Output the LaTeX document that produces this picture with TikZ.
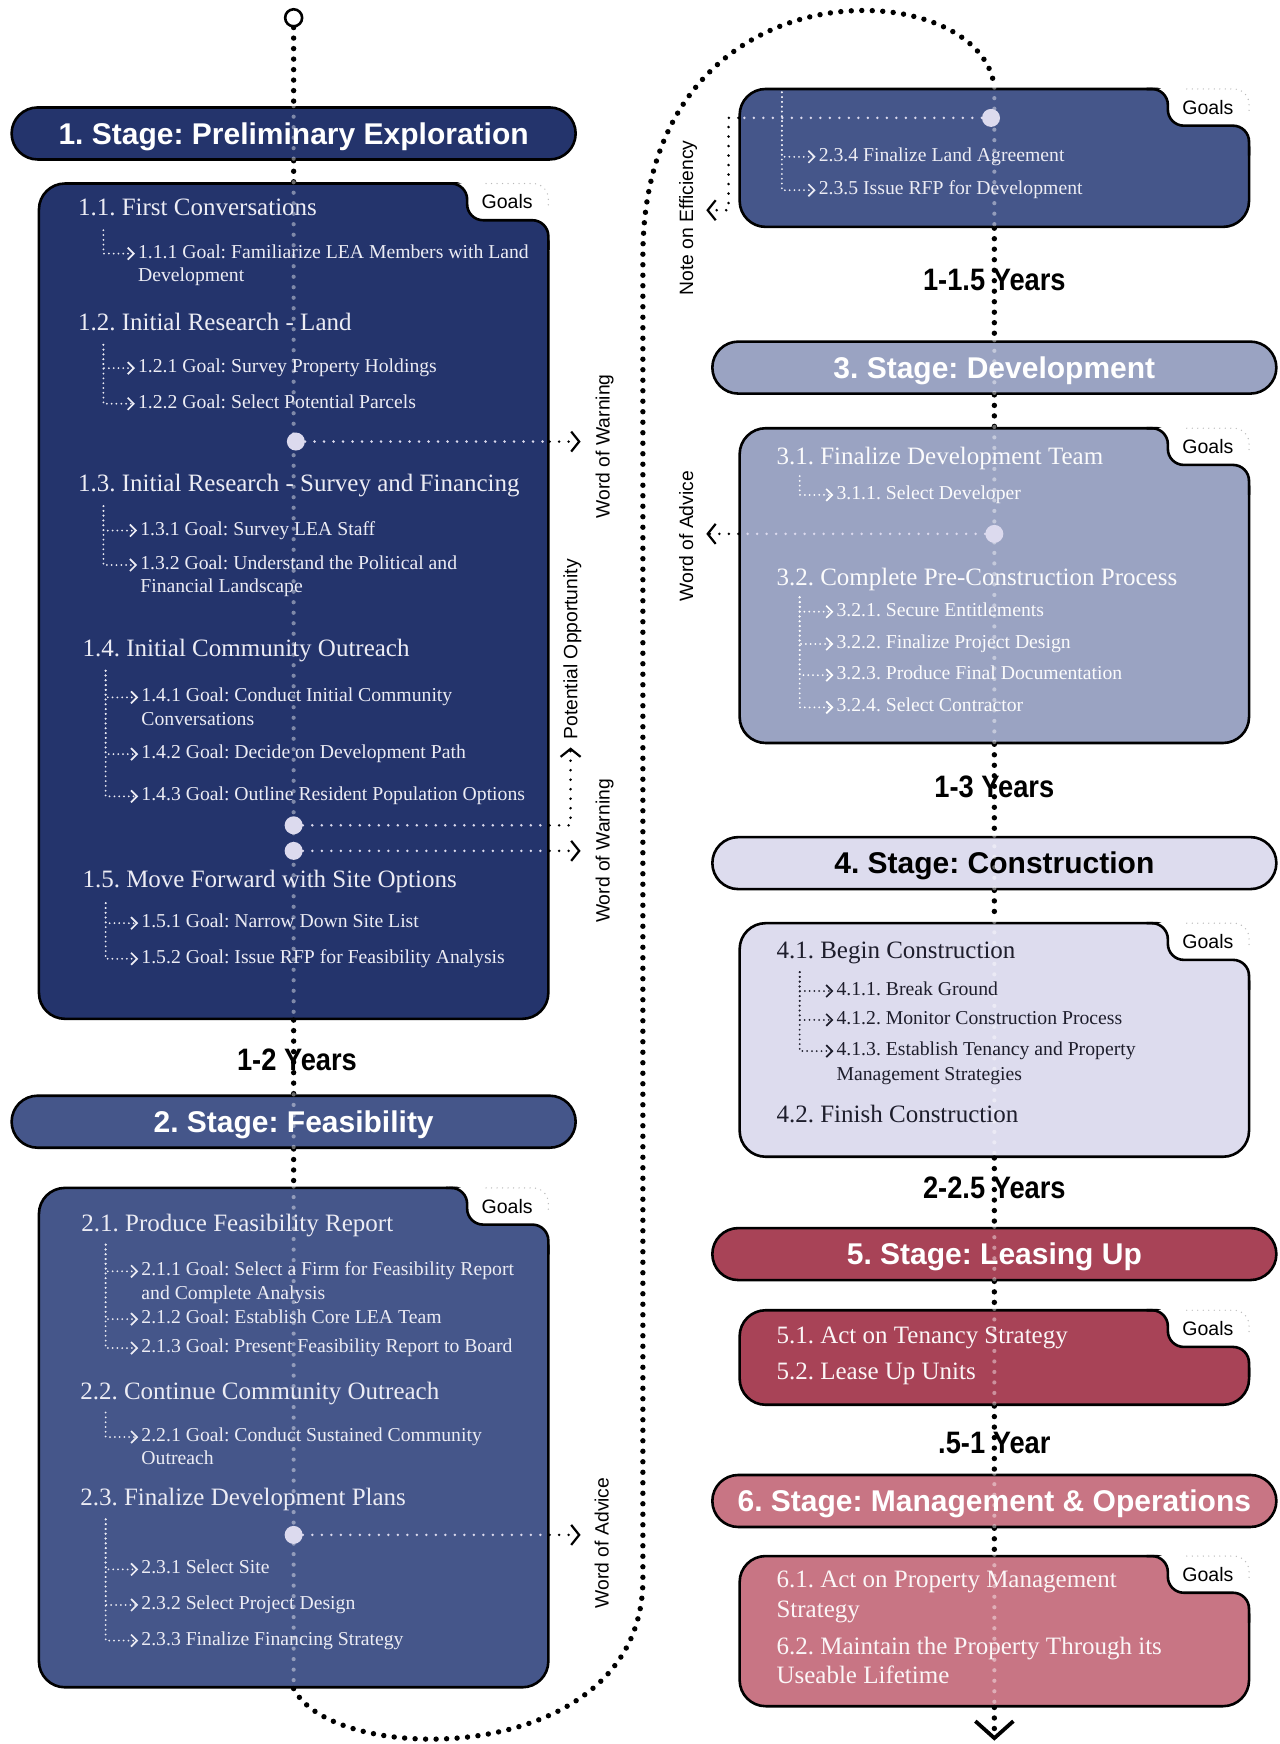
\documentclass[tikz,border=0pt]{standalone}
\usepackage{fontspec}
\setmainfont{Liberation Serif}
\setsansfont{Liberation Sans}
\usetikzlibrary{arrows.meta,fit}
\definecolor{cA}{HTML}{24346C}
\definecolor{cB}{HTML}{45568A}
\definecolor{cC}{HTML}{9AA3C2}
\definecolor{cD}{HTML}{DDDCEE}
\definecolor{cE}{HTML}{A84357}
\definecolor{cF}{HTML}{C87584}
\definecolor{dotc}{HTML}{DCDAEE}
\definecolor{txtL}{HTML}{ECECF4}
\definecolor{txtD}{HTML}{1E1E2C}
\frenchspacing
\newcommand\goalstab[3]{%
  \fill[white,rounded corners=16pt] (#1-90,#2) -- (#1-73,#2) -- (#1-73,#2+33) -- (#1,#2+33) -- (#1,#2+60) -- (#1+15,#2+60) -- (#1+15,#2-15) -- (#1-90,#2-15) -- cycle;
  \draw[line width=2.6pt,rounded corners=16pt] (#1-92,#2) -- (#1-73,#2) -- (#1-73,#2+33) -- (#1,#2+33) -- (#1,#2+60);
  \draw[tabdots] (#1-56,#2) -- (#1-14,#2) .. controls (#1-6,#2) and (#1,#2+6) .. (#1,#2+14) -- (#1,#2+22);
  \node[goalsf] (#3) at (#1-37,#2+16.5) {Goals};
}
\begin{document}
\begin{tikzpicture}[x=1.1122pt, y=-1.1122pt,
  pill/.style={draw=black, line width=2.6pt, rounded corners=26pt, minimum width=564pt, minimum height=52pt, inner sep=0pt, font=\sffamily\bfseries\fontsize{30}{34}\selectfont, text height=21.5pt, text depth=0pt},
  stbox/.style={draw=black, line width=2.6pt, rounded corners=26pt, inner sep=0pt},
  mainline/.style={black, line width=5.4pt, line cap=round, dash pattern=on 0pt off 10.5pt},
  mainin/.style={white, opacity=0.42, line width=4.2pt, line cap=round, dash pattern=on 0pt off 10.5pt},
  sideout/.style={black, line width=2.8pt, line cap=round, dash pattern=on 0pt off 9.5pt},
  sidein/.style={dotc, line width=2.8pt, line cap=round, dash pattern=on 0pt off 9.5pt},
  tipS/.style={-{Straight Barb[length=8pt,width=20pt,line width=2.2pt]}},
  subl/.style={line width=2pt, line cap=round, dash pattern=on 0pt off 4.8pt, -{Straight Barb[length=6pt,width=12pt,line width=1.7pt]}, shorten >=3pt},
  headt/.style={anchor=west, inner sep=0pt, font=\fontsize{25}{28}\selectfont, text height=11.5pt, text depth=0pt},
  itemt/.style={anchor=west, inner sep=0pt, font=\fontsize{19.7}{22}\selectfont, text height=9pt, text depth=0pt},
  years/.style={font=\sffamily\bfseries\fontsize{31}{34}\selectfont, inner sep=0pt, text height=22pt, text depth=0pt},
  sidelab/.style={rotate=90, anchor=west, font=\sffamily\fontsize{19.3}{22}\selectfont, inner sep=0pt, text height=13.8pt, text depth=0pt},
  gdot/.style={circle, fill=dotc, minimum size=18pt, inner sep=0pt},
  goalsf/.style={font=\sffamily\fontsize{19.5}{22}\selectfont, inner sep=0pt, text height=13.6pt, text depth=0pt},
  tabdots/.style={gray!55, line width=1.4pt, dash pattern=on 0pt off 5.5pt, line cap=round}
]
\useasboundingbox (0,0) rectangle (1150,1568);

% ---------- stage pills ----------
\node[pill, fill=cA, text=white] (p1) at (264,120) {1. Stage: Preliminary Exploration};
\node[pill, fill=cB, text=white] (p2) at (264,1008.5) {2. Stage: Feasibility};
\node[pill, fill=cC, text=white] (p3) at (894,330.5) {3. Stage: Development};
\node[pill, fill=cD, text=black] (p4) at (894,776) {4. Stage: Construction};
\node[pill, fill=cE, text=white] (p5) at (894,1127.5) {5. Stage: Leasing Up};
\node[pill, fill=cF, text=white] (p6) at (894,1349.5) {6. Stage: Management \& Operations};

% ---------- boxes ----------
\node[stbox, fill=cA, fit={(35,165) (493,916)}] (b1) {};
\node[stbox, fill=cB, fit={(35,1068) (493,1517)}] (b2) {};
\node[stbox, fill=cB, fit={(665,80) (1123,204)}] (b2b) {};
\node[stbox, fill=cC, fit={(665,385) (1123,668)}] (b3) {};
\node[stbox, fill=cD, fit={(665,830) (1123,1040)}] (b4) {};
\node[stbox, fill=cE, fit={(665,1178) (1123,1263)}] (b5) {};
\node[stbox, fill=cF, fit={(665,1399) (1123,1534)}] (b6) {};

\goalstab{493}{165}{g1}
\goalstab{493}{1068}{g2}
\goalstab{1123}{80}{g2b}
\goalstab{1123}{385}{g3}
\goalstab{1123}{830}{g4}
\goalstab{1123}{1178}{g5}
\goalstab{1123}{1399}{g6}

% ---------- main timeline ----------
\node[circle, draw=black, line width=2.6pt, fill=white, minimum size=17pt, inner sep=0pt] (st) at (264,16) {};
\coordinate (endpt) at (894,1565);
\draw[mainline] (st) -- (p1);
\draw[mainline] (p1) -- (b1);
\draw[mainline] (b1) -- (p2);
\draw[mainline] (p2) -- (b2);
\draw[mainline] (b2.south) .. controls (300,1590) and (578,1590) .. (578,1420) -- (578,230) .. controls (578,-40) and (884,-25) .. (b2b.north);
\draw[mainline] (b2b) -- (p3);
\draw[mainline] (p3) -- (b3);
\draw[mainline] (b3) -- (p4);
\draw[mainline] (p4) -- (b4);
\draw[mainline] (b4) -- (p5);
\draw[mainline] (p5) -- (b5);
\draw[mainline] (b5) -- (p6);
\draw[mainline] (p6) -- (b6);
\draw[mainline, -{Straight Barb[length=17pt,width=38pt,line width=3.8pt]}] (b6) -- (endpt);
\foreach \n in {p1,b1,p2,b2,b2b,p3,b3,p4,b4,p5,b5,p6,b6}
  \draw[mainin] (\n.north) -- (\n.south);

% ---------- years ----------
\node[years] (y1) at (267,953) {\scalebox{0.88}[1]{1-2 Years}};
\node[years] (y2) at (894,251) {\scalebox{0.88}[1]{1-1.5 Years}};
\node[years] (y3) at (894,707) {\scalebox{0.88}[1]{1-3 Years}};
\node[years] (y4) at (894,1068) {\scalebox{0.88}[1]{2-2.5 Years}};
\node[years] (y5) at (894,1297) {\scalebox{0.88}[1]{.5-1 Year}};

% ---------- notes (side paths) ----------
\node[gdot] (d1) at (266,397) {};
\node[gdot] (d2) at (264,742) {};
\node[gdot] (d3) at (264,765) {};
\node[gdot] (d4) at (264,1380) {};
\node[gdot] (d5) at (891,106) {};
\node[gdot] (d6) at (894,480) {};
\coordinate (a1) at (522,397);
\coordinate (a2) at (513,672);
\coordinate (a3) at (522,765);
\coordinate (a4) at (522,1380);
\coordinate (a5) at (635,189);
\coordinate (a6) at (635,480);

\draw[sidein] (d1) -- (b1.east |- d1);
\draw[sideout, tipS] (b1.east |- d1) -- (a1);
\draw[sidein] (d2) -- (b1.east |- d2);
\draw[sideout, tipS] (b1.east |- d2) -| (a2);
\draw[sidein] (d3) -- (b1.east |- d3);
\draw[sideout, tipS] (b1.east |- d3) -- (a3);
\draw[sidein] (d4) -- (b2.east |- d4);
\draw[sideout, tipS] (b2.east |- d4) -- (a4);
\draw[sidein] (d5) -- (b2b.west |- d5);
\draw[sideout, tipS] (b2b.west |- d5) -- (655,106) |- (a5);
\draw[sidein] (d6) -- (b3.west |- d6);
\draw[sideout, tipS] (b3.west |- d6) -- (a6);

\node[sidelab] (lw1) at (542,466) {Word of Warning};
\node[sidelab] (lpo) at (513,665) {Potential Opportunity};
\node[sidelab] (lw2) at (542,830) {Word of Warning};
\node[sidelab] (la1) at (541,1446) {Word of Advice};
\node[sidelab] (lne) at (617,266) {Note on Efficiency};
\node[sidelab] (la2) at (617,541) {Word of Advice};

% ---------- box 1 ----------
\begin{scope}[text=txtL]
\node[headt] (h11) at (70,189) {1.1. First Conversations};
\node[itemt] (i111) at (124,228) {1.1.1 Goal: Familiarize LEA Members with Land};
\node[itemt] (i111b) at (124,249) {Development};
\node[headt] (h12) at (70,292) {1.2. Initial Research - Land};
\node[itemt] (i121) at (124,331) {1.2.1 Goal: Survey Property Holdings};
\node[itemt] (i122) at (124,363) {1.2.2 Goal: Select Potential Parcels};
\node[headt] (h13) at (70,437) {1.3. Initial Research - Survey and Financing};
\node[itemt] (i131) at (126,477) {1.3.1 Goal: Survey LEA Staff};
\node[itemt] (i132) at (126,508) {1.3.2 Goal: Understand the Political and};
\node[itemt] (i132b) at (126,529) {Financial Landscape};
\node[headt] (h14) at (74,585) {1.4. Initial Community Outreach};
\node[itemt] (i141) at (127,627) {1.4.1 Goal: Conduct Initial Community};
\node[itemt] (i141b) at (127,648) {Conversations};
\node[itemt] (i142) at (127,678) {1.4.2 Goal: Decide on Development Path};
\node[itemt] (i143) at (127,716) {1.4.3 Goal: Outline Resident Population Options};
\node[headt] (h15) at (74,793) {1.5. Move Forward with Site Options};
\node[itemt] (i151) at (127,830) {1.5.1 Goal: Narrow Down Site List};
\node[itemt] (i152) at (127,862) {1.5.2 Goal: Issue RFP for Feasibility Analysis};
% box 2
\node[headt] (h21) at (73,1102) {2.1. Produce Feasibility Report};
\node[itemt] (i211) at (127,1143) {2.1.1 Goal: Select a Firm for Feasibility Report};
\node[itemt] (i211b) at (127,1164) {and Complete Analysis};
\node[itemt] (i212) at (127,1186) {2.1.2 Goal: Establish Core LEA Team};
\node[itemt] (i213) at (127,1212) {2.1.3 Goal: Present Feasibility Report to Board};
\node[headt] (h22) at (72,1253) {2.2. Continue Community Outreach};
\node[itemt] (i221) at (127,1292) {2.2.1 Goal: Conduct Sustained Community};
\node[itemt] (i221b) at (127,1313) {Outreach};
\node[headt] (h23) at (72,1348) {2.3. Finalize Development Plans};
\node[itemt] (i231) at (127,1411) {2.3.1 Select Site};
\node[itemt] (i232) at (127,1443) {2.3.2 Select Project Design};
\node[itemt] (i233) at (127,1475) {2.3.3 Finalize Financing Strategy};
% box 2b
\node[itemt] (i234) at (736,141) {2.3.4 Finalize Land Agreement};
\node[itemt] (i235) at (736,171) {2.3.5 Issue RFP for Development};
\end{scope}

\coordinate (v11) at (93,207);
\coordinate (v12) at (93,310);
\coordinate (v13) at (93,455);
\coordinate (v14) at (95,603);
\coordinate (v15) at (95,812);
\coordinate (v21) at (95,1119);
\coordinate (v22) at (95,1270);
\coordinate (v23) at (95,1366);
\coordinate (v2b) at (703,83);
\draw[subl, txtL] (v11) |- (i111.west);
\draw[subl, txtL] (v12) |- (i121.west);
\draw[subl, txtL] (v12) |- (i122.west);
\draw[subl, txtL] (v13) |- (i131.west);
\draw[subl, txtL] (v13) |- (i132.west);
\draw[subl, txtL] (v14) |- (i141.west);
\draw[subl, txtL] (v14) |- (i142.west);
\draw[subl, txtL] (v14) |- (i143.west);
\draw[subl, txtL] (v15) |- (i151.west);
\draw[subl, txtL] (v15) |- (i152.west);
\draw[subl, txtL] (v21) |- (i211.west);
\draw[subl, txtL] (v21) |- (i212.west);
\draw[subl, txtL] (v21) |- (i213.west);
\draw[subl, txtL] (v22) |- (i221.west);
\draw[subl, txtL] (v23) |- (i231.west);
\draw[subl, txtL] (v23) |- (i232.west);
\draw[subl, txtL] (v23) |- (i233.west);
\draw[subl, txtL] (v2b) |- (i234.west);
\draw[subl, txtL] (v2b) |- (i235.west);

% ---------- box 3 ----------
\begin{scope}[text=white!96!cC]
\node[headt] (h31) at (698,412) {3.1. Finalize Development Team};
\node[itemt] (i311) at (752,445) {3.1.1. Select Developer};
\node[headt] (h32) at (698,521) {3.2. Complete Pre-Construction Process};
\node[itemt] (i321) at (752,550) {3.2.1. Secure Entitlements};
\node[itemt] (i322) at (752,579) {3.2.2. Finalize Project Design};
\node[itemt] (i323) at (752,607) {3.2.3. Produce Final Documentation};
\node[itemt] (i324) at (752,636) {3.2.4. Select Contractor};
\end{scope}
\coordinate (v31) at (719,428);
\coordinate (v32) at (719,537);
\draw[subl, white] (v31) |- (i311.west);
\draw[subl, white] (v32) |- (i321.west);
\draw[subl, white] (v32) |- (i322.west);
\draw[subl, white] (v32) |- (i323.west);
\draw[subl, white] (v32) |- (i324.west);

% ---------- box 4 ----------
\begin{scope}[text=txtD]
\node[headt] (h41) at (698,857) {4.1. Begin Construction};
\node[itemt] (i411) at (752,891) {4.1.1. Break Ground};
\node[itemt] (i412) at (752,917) {4.1.2. Monitor Construction Process};
\node[itemt] (i413) at (752,945) {4.1.3. Establish Tenancy and Property};
\node[itemt] (i413b) at (752,967) {Management Strategies};
\node[headt] (h42) at (698,1004) {4.2. Finish Construction};
\end{scope}
\coordinate (v41) at (719,874);
\draw[subl, txtD] (v41) |- (i411.west);
\draw[subl, txtD] (v41) |- (i412.west);
\draw[subl, txtD] (v41) |- (i413.west);

% ---------- boxes 5, 6 ----------
\begin{scope}[text=white!95!cE]
\node[headt] (h51) at (698,1203) {5.1. Act on Tenancy Strategy};
\node[headt] (h52) at (698,1235) {5.2. Lease Up Units};
\node[headt] (h61) at (698,1422) {6.1. Act on Property Management};
\node[headt] (h61b) at (698,1449) {Strategy};
\node[headt] (h62) at (698,1482) {6.2. Maintain the Property Through its};
\node[headt] (h62b) at (698,1508) {Useable Lifetime};
\end{scope}
\end{tikzpicture}
\end{document}
